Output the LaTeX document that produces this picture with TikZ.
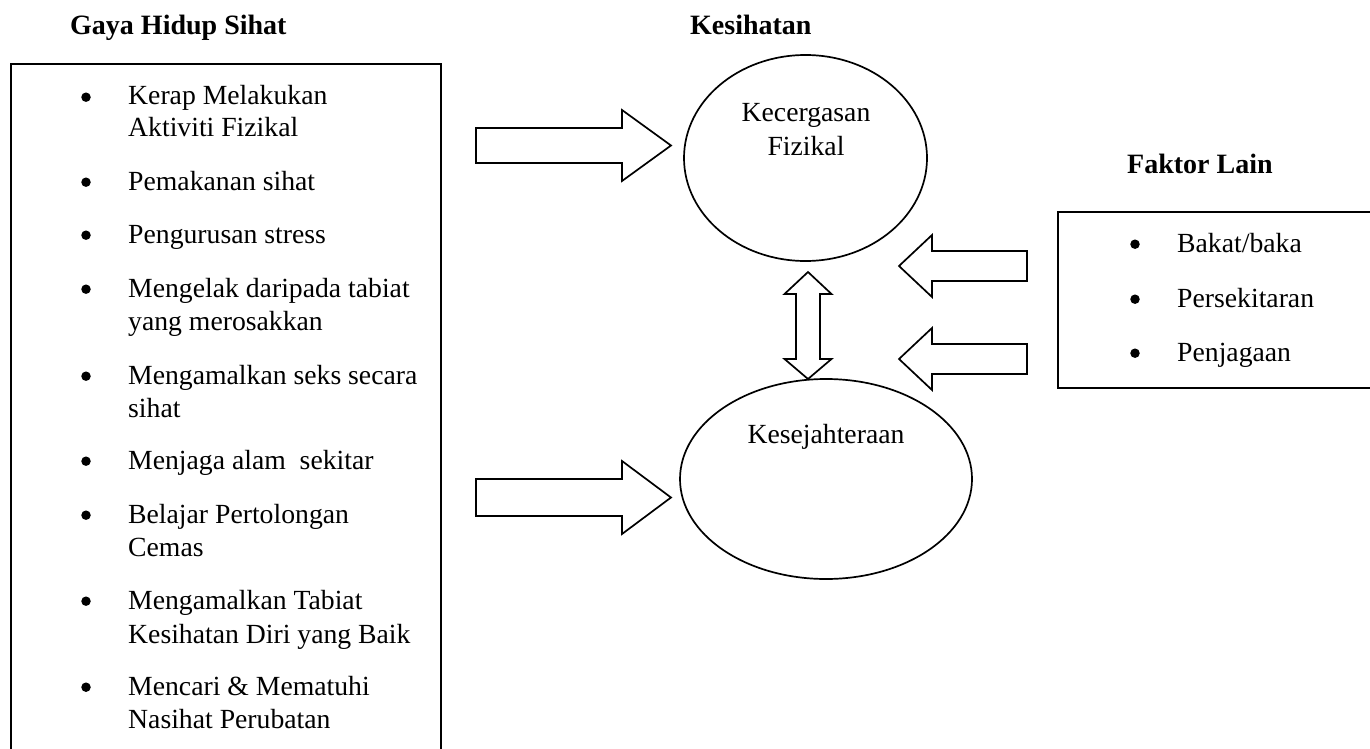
\documentclass[tikz,border=0pt]{standalone}
\usepackage{fontspec}
\setmainfont{Liberation Serif}
\usetikzlibrary{calc,shapes.geometric}
\tikzset{
  outline/.style={draw=black, line width=1.7pt},
  blk/.style={draw=black, line width=1.7pt, fill=white, line join=miter},
  body/.style={anchor=base west, inner sep=0pt, font=\fontsize{27.7}{33}\selectfont},
  dot/.style={circle, fill=black, inner sep=0pt, minimum size=9.5pt},
  ctext/.style={anchor=base, inner sep=0pt, font=\fontsize{27.7}{33}\selectfont},
  headtitle/.style={anchor=base west, inner sep=0pt, font=\fontsize{28}{32}\selectfont\bfseries},
  oval/.style={ellipse, draw=black, line width=1.7pt, inner sep=0pt},
}
% #1 tail, #2 tip, #3 shaft half width, #4 head half width, #5 head length
\newcommand{\blockharrow}[5]{%
  \draw[blk] let \p1=(#1), \p2=(#2), \p3=($(#2)!#5!(#1)$) in
    (\x1,\y1+#3) -- (\x3,\y1+#3) -- (\x3,\y1+#4) -- (\x2,\y2)
    -- (\x3,\y1-#4) -- (\x3,\y1-#3) -- (\x1,\y1-#3) -- cycle;}
\begin{document}
\begin{tikzpicture}[x=1pt,y=-1pt]
\useasboundingbox (0,0) rectangle (1370,749);

% titles
\node[headtitle] (t1) at (70,35) {Gaya Hidup Sihat};
\node[headtitle] (t2) at (690,35) {Kesihatan};
\node[headtitle] (t3) at (1127,173) {Faktor Lain};

% left box (bottom edge is outside the picture)
\coordinate (lbTL) at (11,64);
\coordinate (lbTR) at (441,64);
\draw[outline] ($(lbTL)+(0,700)$) -- (lbTL) -- (lbTR) -- ($(lbTR)+(0,700)$);

% left box items
\foreach \y/\n in {105/b1,190/b2,243/b3,297/b4,384/b5,469/b6,523/b7,609/b8,695/b9}
  \node[dot] (\n) at (86,\y-7.8) {};
\node[body] (i1a) at (128,105) {Kerap Melakukan};
\node[body] (i1b) at (128,137) {Aktiviti Fizikal};
\node[body] (i2) at (128,190) {Pemakanan sihat};
\node[body] (i3) at (128,243) {Pengurusan stress};
\node[body] (i4a) at (128,297) {Mengelak daripada tabiat};
\node[body] (i4b) at (128,330) {yang merosakkan};
\node[body] (i5a) at (128,384) {Mengamalkan seks secara};
\node[body] (i5b) at (128,417) {sihat};
\node[body] (i6) at (128,469) {Menjaga alam\ \ sekitar};
\node[body] (i7a) at (128,523) {Belajar Pertolongan};
\node[body] (i7b) at (128,556) {Cemas};
\node[body] (i8a) at (128,609) {Mengamalkan Tabiat};
\node[body] (i8b) at (128,643) {Kesihatan Diri yang Baik};
\node[body] (i9a) at (128,695) {Mencari \& Mematuhi};
\node[body] (i9b) at (128,728) {Nasihat Perubatan};

% right box (right edge is outside the picture)
\coordinate (rbTL) at (1058,212);
\coordinate (rbBL) at (1058,388);
\draw[outline] ($(rbTL)+(330,0)$) -- (rbTL) -- (rbBL) -- ($(rbBL)+(330,0)$);
\node[dot] (rb1) at (1135,252-7.8) {};
\node[dot] (rb2) at (1135,307-7.8) {};
\node[dot] (rb3) at (1135,361-7.8) {};
\node[body] (f1) at (1177,252) {Bakat/baka};
\node[body] (f2) at (1177,307) {Persekitaran};
\node[body] (f3) at (1177,361) {Penjagaan};

% ellipses
\node[oval, minimum width=243pt, minimum height=206pt] (e1) at (805.5,158) {};
\node[ctext] (e1a) at (806,122) {Kecergasan};
\node[ctext] (e1b) at (806,155) {Fizikal};
\node[oval, minimum width=292pt, minimum height=200pt] (e2) at (826,479) {};
\node[ctext] (e2a) at (826,443) {Kesejahteraan};

% block arrows
\coordinate (a1tail) at (476,145.5);
\coordinate (a1tip) at (671,145.5);
\blockharrow{a1tail}{a1tip}{17.5pt}{35.5pt}{49pt}
\coordinate (a2tail) at (476,497.5);
\coordinate (a2tip) at (671,497.5);
\blockharrow{a2tail}{a2tip}{18.5pt}{36.5pt}{49pt}
\coordinate (a3tail) at (1027,266);
\coordinate (a3tip) at (899,266);
\blockharrow{a3tail}{a3tip}{15pt}{31pt}{33pt}
\coordinate (a4tail) at (1027,359);
\coordinate (a4tip) at (899,359);
\blockharrow{a4tail}{a4tip}{15pt}{31pt}{33pt}

% double block arrow between the ellipses
\coordinate (dtop) at (808,272);
\coordinate (dbot) at (808,379);
\draw[blk] let \p1=(dtop), \p2=(dbot) in
  (\x1,\y1) -- (\x1+23.5pt,\y1-22pt) -- (\x1+12pt,\y1-22pt) -- (\x1+12pt,\y2+20pt)
  -- (\x1+23.5pt,\y2+20pt) -- (\x2,\y2) -- (\x1-23.5pt,\y2+20pt) -- (\x1-12pt,\y2+20pt)
  -- (\x1-12pt,\y1-22pt) -- (\x1-23.5pt,\y1-22pt) -- cycle;
\end{tikzpicture}
\end{document}
